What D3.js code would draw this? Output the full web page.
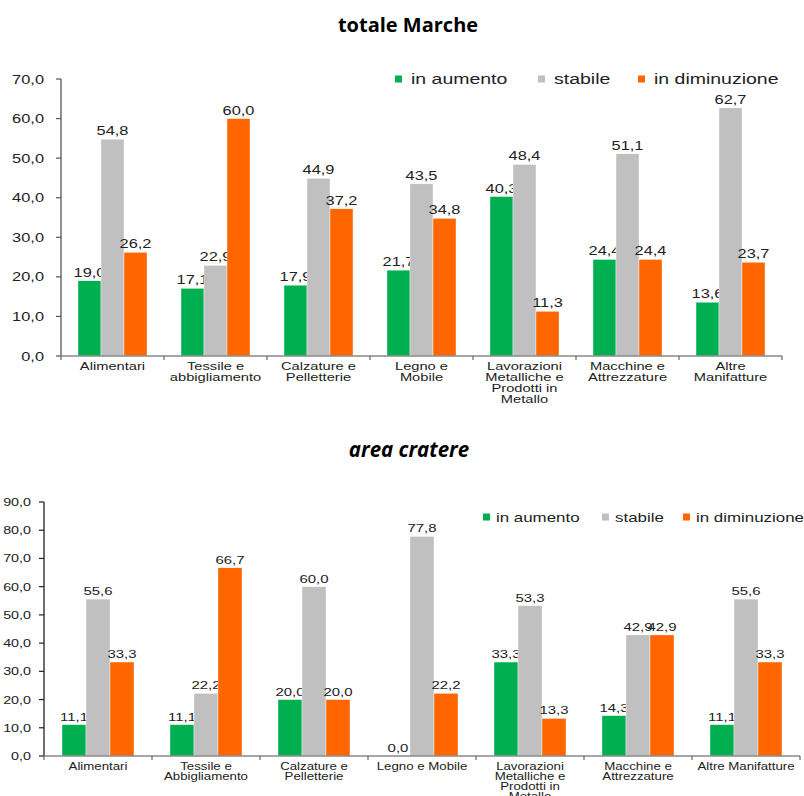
<!DOCTYPE html>
<html>
<head>
<meta charset="utf-8">
<script src="https://cdn.jsdelivr.net/npm/d3@7"></script>
<style>
  html, body { margin: 0; padding: 0; background: #fff; }
  svg { display: block; }
</style>
</head>
<body>
<svg id="chart" width="804" height="796"></svg>
<script>
// ---------- DATA ----------
const series = ["in aumento", "stabile", "in diminuzione"];
const colors = ["#00B050", "#C0C0C0", "#FF6600"];

const categories1 = ["Alimentari", "Tessile e\nabbigliamento", "Calzature e\nPelletterie", "Legno e\nMobile",
  "Lavorazioni\nMetalliche e\nProdotti in\nMetallo", "Macchine e\nAttrezzature", "Altre\nManifatture"];
const aumento1 = [19.0, 17.1, 17.9, 21.7, 40.3, 24.4, 13.6];
const stabile1 = [54.8, 22.9, 44.9, 43.5, 48.4, 51.1, 62.7];
const diminuzione1 = [26.2, 60.0, 37.2, 34.8, 11.3, 24.4, 23.7];
const ticks1 = [0, 10, 20, 30, 40, 50, 60, 70];

const categories2 = ["Alimentari", "Tessile e\nAbbigliamento", "Calzature e\nPelletterie", "Legno e Mobile",
  "Lavorazioni\nMetalliche e\nProdotti in\nMetallo", "Macchine e\nAttrezzature", "Altre Manifatture"];
const aumento2 = [11.1, 11.1, 20.0, 0.0, 33.3, 14.3, 11.1];
const stabile2 = [55.6, 22.2, 60.0, 77.8, 53.3, 42.9, 55.6];
const diminuzione2 = [33.3, 66.7, 20.0, 22.2, 13.3, 42.9, 33.3];
const ticks2 = [0, 10, 20, 30, 40, 50, 60, 70, 80, 90];

const title1 = "totale Marche";
const title2 = "area cratere";

// ---------- DRAW ----------
const svg = d3.select("#chart");
const fmt = v => v.toFixed(1).replace(".", ",");
const FONT = "'Liberation Sans', Arial, sans-serif";
const SX = 1.3;

function sText(g, x, y, txt, size, anchor, fill) {
  return g.append("text")
    .attr("transform", `translate(${x},${y}) scale(${SX},1)`)
    .attr("text-anchor", anchor)
    .attr("font-family", FONT)
    .attr("font-size", size)
    .attr("fill", fill || "#222")
    .text(txt);
}

function drawChart(cfg) {
  const g = svg.append("g");
  const values = [cfg.a, cfg.s, cfg.d];
  const y = d3.scaleLinear().domain([0, cfg.max]).range([cfg.y0, cfg.yTop]);
  const x = d3.scaleBand().domain(d3.range(cfg.cats.length)).range([cfg.x0, cfg.x1]).paddingInner(0).paddingOuter(0);
  const bw = x.bandwidth();
  const xs = d3.scaleBand().domain(d3.range(3)).range([bw * cfg.pad, bw * (1 - cfg.pad)]).padding(0);

  // title
  g.append("text")
    .attr("x", cfg.titleX).attr("y", cfg.titleY)
    .attr("text-anchor", "middle")
    .attr("font-family", "'Open Sans', 'Noto Sans', sans-serif")
    .attr("font-weight", "bold")
    .attr("font-style", cfg.italic ? "italic" : "normal")
    .attr("font-size", cfg.titleSize)
    .attr("fill", "#000")
    .text(cfg.title);

  // y axis
  g.append("line").attr("x1", cfg.x0).attr("x2", cfg.x0)
    .attr("y1", y(0)).attr("y2", y(cfg.max))
    .attr("stroke", cfg.axisColor).attr("stroke-width", 1.3);
  cfg.ticks.forEach(t => {
    g.append("line").attr("x1", cfg.x0 - 5).attr("x2", cfg.x0)
      .attr("y1", y(t)).attr("y2", y(t))
      .attr("stroke", cfg.axisColor).attr("stroke-width", 1.2);
    sText(g, cfg.x0 - cfg.tickGap, y(t) + cfg.tickSize * 0.36, fmt(t), cfg.tickSize, "end", "#222");
  });

  // bars
  cfg.cats.forEach((c, i) => {
    values.forEach((vals, k) => {
      const v = vals[i];
      const bx = x(i) + xs(k);
      g.append("rect")
        .attr("x", bx).attr("y", y(v))
        .attr("width", xs.bandwidth()).attr("height", y(0) - y(v))
        .attr("fill", colors[k])
        .attr("stroke", "#ffffff").attr("stroke-width", 0.4);
      sText(g, bx + xs.bandwidth() / 2, y(v) - 4, fmt(v), cfg.valSize, "middle", "#222");
    });
  });

  // x axis
  g.append("line").attr("x1", cfg.x0).attr("x2", cfg.x1)
    .attr("y1", y(0)).attr("y2", y(0))
    .attr("stroke", "#888").attr("stroke-width", 1.5);
  d3.range(cfg.cats.length + 1).forEach(i => {
    const tx = cfg.x0 + i * bw;
    g.append("line").attr("x1", tx).attr("x2", tx)
      .attr("y1", y(0)).attr("y2", y(0) + 4)
      .attr("stroke", "#666").attr("stroke-width", 1.2);
  });
  cfg.cats.forEach((c, i) => {
    c.split("\n").forEach((line, li) => {
      sText(g, x(i) + bw / 2, cfg.labY + li * cfg.labLH, line, cfg.labSize, "middle", "#222");
    });
  });

  // legend
  series.forEach((s, k) => {
    const lx = cfg.legX[k];
    g.append("rect").attr("x", lx).attr("y", cfg.legY - 3.5)
      .attr("width", 7).attr("height", 7).attr("fill", colors[k]);
    sText(g, lx + cfg.legGap, cfg.legY + cfg.legSize * 0.36, s, cfg.legSize, "start", "#222");
  });
}

drawChart({
  title: title1, titleX: 408, titleY: 32, titleSize: 20, italic: false,
  cats: categories1, a: aumento1, s: stabile1, d: diminuzione1, ticks: ticks1, max: 70,
  x0: 61, x1: 782, y0: 356, yTop: 79, pad: 0.165,
  axisColor: "#555", tickGap: 17, tickSize: 12.6, valSize: 12.6,
  labY: 370, labLH: 11, labSize: 11.3,
  legX: [395, 538, 638], legY: 79, legGap: 16, legSize: 15
});

drawChart({
  title: title2, titleX: 409, titleY: 457, titleSize: 20.5, italic: true,
  cats: categories2, a: aumento2, s: stabile2, d: diminuzione2, ticks: ticks2, max: 90,
  x0: 44, x1: 800, y0: 756, yTop: 502, pad: 0.1667,
  axisColor: "#222", tickGap: 13, tickSize: 11, valSize: 11.5,
  labY: 769.5, labLH: 10.2, labSize: 10.2,
  legX: [483, 602, 683], legY: 517, legGap: 13, legSize: 13
});
</script>
</body>
</html>
